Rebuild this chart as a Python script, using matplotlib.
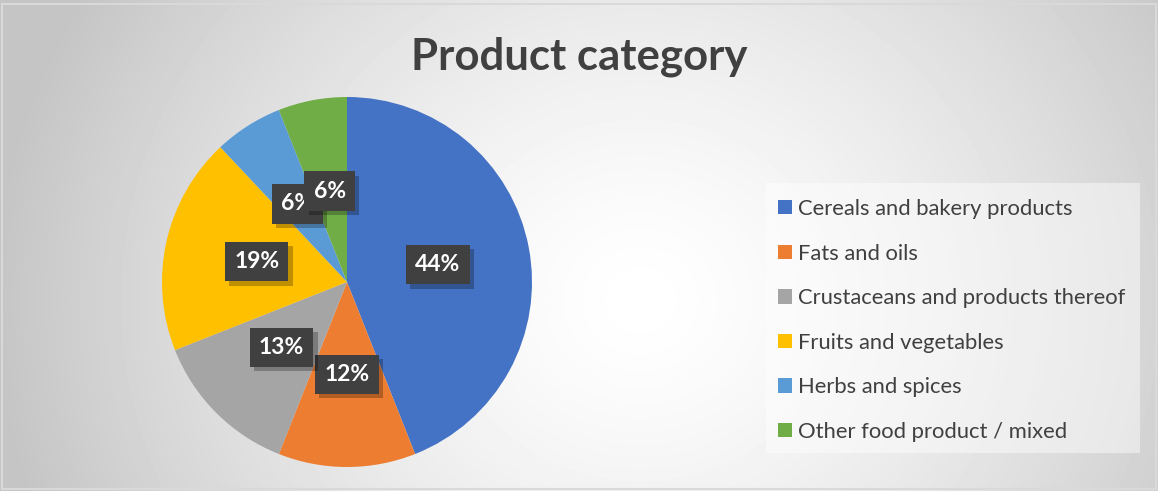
import numpy as np
import matplotlib.pyplot as plt
import matplotlib.patheffects as pe
from matplotlib.patches import Patch, Rectangle

categories = ['Cereals and bakery products', 'Fats and oils',
              'Crustaceans and products thereof', 'Fruits and vegetables',
              'Herbs and spices', 'Other food product / mixed']
shares = [44, 12, 13, 19, 6, 6]
colors = ['#4472C4', '#ED7D31', '#A5A5A5', '#FFC000', '#5B9BD5', '#70AD47']

plt.rcParams['font.family'] = ['Lato', 'DejaVu Sans']

W, H = 1158, 491
fig = plt.figure(figsize=(W / 100, H / 100), dpi=100)

# grey -> white background, lightest a bit right of centre
bg = fig.add_axes([0, 0, 1, 1])
yy, xx = np.mgrid[0:H, 0:W]
d = np.sqrt(((xx - 640) / 650.0) ** 2 + ((yy - 300) / 600.0) ** 2)
shade = 1.0 - 0.23 * np.clip(d, 0, 1.0) ** 1.4
bg.imshow(shade, cmap='gray', vmin=0, vmax=1, extent=[0, W, H, 0], aspect='auto')
bg.add_patch(Rectangle((1.5, 3.5), W - 4, H - 6, fill=False, ec='#d9d9d9', lw=1.5))
# legend panel
bg.add_patch(Rectangle((766, 183), 374, 270, fc='white', alpha=0.45, ec='none'))
bg.set_xlim(0, W)
bg.set_ylim(H, 0)
bg.axis('off')

fig.text(0.5, 0.885, 'Product category', ha='center', va='center',
         fontsize=31.5, fontweight='bold', color='#404040')

# pie
cx, cy, r = 347, 282, 185
ax = fig.add_axes([(cx - r) / W, (H - cy - r) / H, 2 * r / W, 2 * r / H])
wedges, texts, autotexts = ax.pie(shares, colors=colors, startangle=90,
                                  counterclock=False, autopct='%1.0f%%',
                                  pctdistance=0.5, radius=1,
                                  textprops=dict(color='white', fontsize=16.5,
                                                 fontweight='bold'))
for t in autotexts:
    t.set_bbox(dict(boxstyle='square,pad=0.4', fc='#404040', ec='none'))
    t.get_bbox_patch().set_path_effects([
        pe.SimplePatchShadow(offset=(3, -3), shadow_rgbFace='black', alpha=0.25),
        pe.Normal()])
ax.set_xlim(-1, 1)
ax.set_ylim(-1, 1)

handles = [Patch(facecolor=c, edgecolor='none') for c in colors]
leg = fig.legend(handles, categories, loc='upper left',
                 bbox_to_anchor=(767 / W, 1 - 188 / H), fontsize=15.8,
                 frameon=False, borderpad=0.5,
                 labelspacing=1.12, handlelength=0.62, handleheight=0.62,
                 handletextpad=0.3, borderaxespad=0, labelcolor='#404040')

fig.savefig('out.png', dpi=100)
